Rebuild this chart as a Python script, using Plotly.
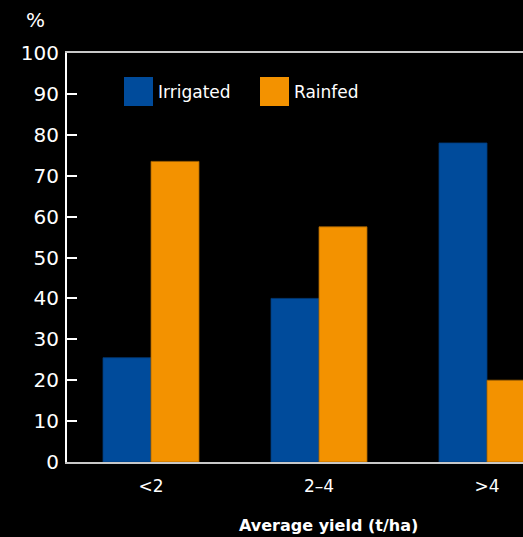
import plotly.graph_objects as go

# Share of farms by average yield class
categories = ["<2", "2–4", ">4"]
irrigated = [25.5, 40, 78]
rainfed = [73.5, 57.5, 20]
y_ticks = [0, 10, 20, 30, 40, 50, 60, 70, 80, 90, 100]

BLUE = "#004B9B"
ORANGE = "#F39200"
FONT = "DejaVu Sans"

W, H = 523, 537
PL, PT, PB = 67, 53, 75
PW, PH = W - PL, H - PT - PB


def px_x(x):
    return (x - PL) / PW


def px_y(y):
    return (H - PB - y) / PH


fig = go.Figure()
fig.add_trace(go.Bar(
    x=categories, y=irrigated, name="Irrigated",
    marker=dict(color=BLUE, line=dict(color="#003a78", width=0.8)),
    showlegend=False,
))
fig.add_trace(go.Bar(
    x=categories, y=rainfed, name="Rainfed",
    marker=dict(color=ORANGE, line=dict(color="#a86400", width=0.8)),
    showlegend=False,
))

# Legend drawn as large swatches with labels
legend_items = [("Irrigated", BLUE, 124), ("Rainfed", ORANGE, 260)]
for label, color, x0 in legend_items:
    fig.add_shape(
        type="rect", xref="paper", yref="paper",
        x0=px_x(x0), x1=px_x(x0 + 29),
        y0=px_y(106), y1=px_y(77),
        fillcolor=color, line=dict(width=0), layer="above",
    )
    fig.add_annotation(
        text=label, xref="paper", yref="paper",
        x=px_x(x0 + 32), y=px_y(92),
        xanchor="left", yanchor="middle", showarrow=False,
        font=dict(family=FONT, size=17, color="#ffffff"),
    )

# Unit label above the value axis
fig.add_annotation(
    text="%", xref="paper", yref="paper",
    x=px_x(24), y=px_y(20),
    xanchor="left", yanchor="middle", showarrow=False,
    font=dict(family=FONT, size=20, color="#ffffff"),
)

# Category axis title
fig.add_annotation(
    text="<b>Average yield (t/ha)</b>", xref="paper", yref="paper",
    x=px_x(328), y=px_y(525),
    xanchor="center", yanchor="middle", showarrow=False,
    font=dict(family=FONT, size=16, color="#ffffff"),
)

fig.update_layout(
    width=W, height=H,
    margin=dict(l=PL, r=0, t=PT, b=PB),
    paper_bgcolor="#000000", plot_bgcolor="#000000",
    barmode="group", bargap=0.4286, bargroupgap=0,
    font=dict(family=FONT, color="#ffffff"),
    xaxis=dict(
        type="category",
        range=[-0.5, -0.5 + PW / 168],
        showline=True, mirror=True, linecolor="#c8c8c8", linewidth=2,
        ticks="", showgrid=False, zeroline=False,
        tickfont=dict(family=FONT, size=17, color="#ffffff"),
        ticklabelstandoff=8,
    ),
    yaxis=dict(
        range=[0, 100], tickvals=y_ticks,
        showline=True, linecolor="#ffffff", linewidth=2,
        ticks="inside", ticklen=10, tickwidth=2, tickcolor="#ffffff",
        showgrid=False, zeroline=False,
        tickfont=dict(family=FONT, size=20, color="#ffffff"),
        ticklabelstandoff=2,
    ),
)

fig.write_html("out.html")
